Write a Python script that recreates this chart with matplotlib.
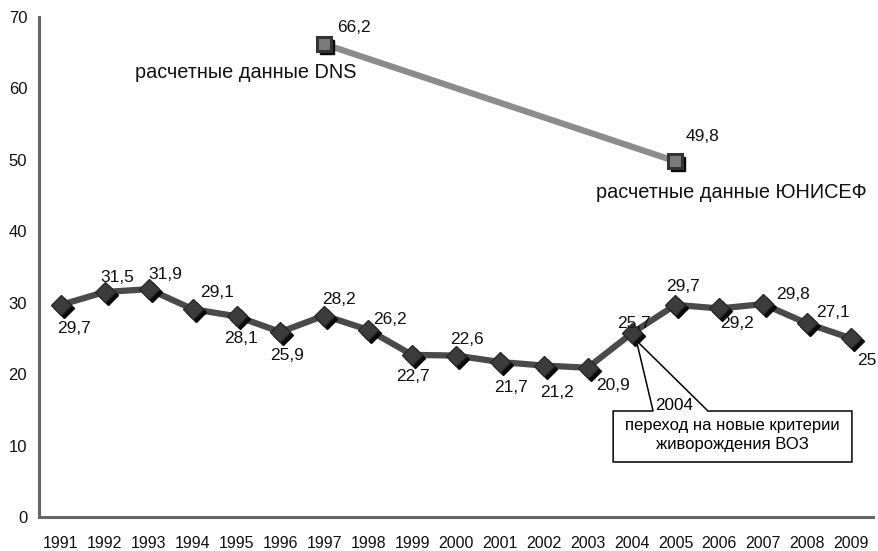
import matplotlib
matplotlib.use("Agg")
import matplotlib.pyplot as plt
import matplotlib.transforms as mtransforms
from matplotlib.patches import Polygon

years = [1991, 1992, 1993, 1994, 1995, 1996, 1997, 1998, 1999, 2000,
         2001, 2002, 2003, 2004, 2005, 2006, 2007, 2008, 2009]
rates = [29.7, 31.5, 31.9, 29.1, 28.1, 25.9, 28.2, 26.2, 22.7, 22.6,
         21.7, 21.2, 20.9, 25.7, 29.7, 29.2, 29.8, 27.1, 25.0]
label_texts = ["29,7", "31,5", "31,9", "29,1", "28,1", "25,9", "28,2", "26,2", "22,7", "22,6",
               "21,7", "21,2", "20,9", "25,7", "29,7", "29,2", "29,8", "27,1", "25"]
est_years = [1997, 2005]
est_rates = [66.2, 49.8]
est_texts = ["66,2", "49,8"]
est_names = ["расчетные данные DNS", "расчетные данные ЮНИСЕФ"]
y_ticks = [0, 10, 20, 30, 40, 50, 60, 70]
callout_title = "2004"
callout_text = "переход на новые критерии\nживорождения ВОЗ"

plt.rcParams['font.family'] = ['Liberation Sans', 'DejaVu Sans']

fig = plt.figure(figsize=(8.79, 5.51), dpi=100)
ax = fig.add_axes([39/879, 1 - 517/551, (873-39)/879, (517-17)/551])

xi = list(range(len(years)))
idx = {y: i for i, y in enumerate(years)}
ex = [idx[y] for y in est_years]

shadow = mtransforms.offset_copy(ax.transData, fig=fig, x=3, y=-3, units='dots')

# main series
ax.plot(xi, rates, color='#4a4a4a', lw=4.5, zorder=3, solid_joinstyle='round')
ax.plot(xi, rates, ls='none', marker='D', ms=10, color='#0a0a0a', transform=shadow, zorder=4)
ax.plot(xi, rates, ls='none', marker='D', ms=10, color='#3c3c3c', mec='#2a2a2a', zorder=5)

# estimated series
ax.plot(ex, est_rates, color='#8c8c8c', lw=4.5, zorder=3)
ax.plot(ex, est_rates, ls='none', marker='s', ms=10.5, color='#0a0a0a', transform=shadow, zorder=4)
ax.plot(ex, est_rates, ls='none', marker='s', ms=10.5, mfc='#7a7a7a', mec='#333333', mew=2.2, zorder=5)

# data labels (offsets in pixels)
offsets = [(13, -24), (12, 15), (17, 15), (24, 17), (4, -22), (7, -24), (15, 16), (22, 10), (1, -22), (11, 16),
           (11, -26), (13, -27), (25, -18), (2, 10), (8, 18), (18, -15), (30, 10), (26, 11), (16, -22)]
for x, y, t, (dx, dy) in zip(xi, rates, label_texts, offsets):
    ax.annotate(t, (x, y), xytext=(dx, dy), textcoords='offset pixels',
                ha='center', va='center', fontsize=12.5, color='#111111', zorder=6)

est_offsets = [(30, 17), (27, 25)]
for x, y, t, (dx, dy) in zip(ex, est_rates, est_texts, est_offsets):
    ax.annotate(t, (x, y), xytext=(dx, dy), textcoords='offset pixels',
                ha='center', va='center', fontsize=12.5, color='#111111', zorder=6)

name_offsets = [(-79, -28), (56, -31)]
for x, y, t, (dx, dy) in zip(ex, est_rates, est_names, name_offsets):
    ax.annotate(t, (x, y), xytext=(dx, dy), textcoords='offset pixels',
                ha='center', va='center', fontsize=14.3, color='#111111', zorder=6)

# callout box with wedge pointing at 2004
px = idx[2004]
py = rates[px]
bx0, bx1 = 12.58, 18.02
by0, by1 = 7.7, 14.84
w0, w1 = 13.49, 14.74
poly = Polygon([(bx0, by1), (w0, by1), (px + 0.11, py - 1.0), (w1, by1), (bx1, by1), (bx1, by0), (bx0, by0)],
               closed=True, facecolor='white', edgecolor='black', lw=1.1, zorder=7)
ax.add_patch(poly)
ax.text((w0 + w1) / 2 - 0.15, 15.68, callout_title, ha='center', va='center', fontsize=12.3, zorder=8)
ax.text((bx0 + bx1) / 2, 11.5, callout_text, ha='center', va='center',
        fontsize=12, linespacing=1.3, zorder=8)

ax.set_xlim(-0.5, len(years) - 0.5)
ax.set_ylim(0, 70)
ax.set_yticks(y_ticks)
ax.set_yticklabels([str(v) for v in y_ticks], fontsize=12)
ax.set_xticks(xi)
ax.set_xticklabels([str(y) for y in years], fontsize=11.5)
ax.tick_params(axis='both', length=0, colors='#111111')
ax.tick_params(axis='y', pad=8.5)
ax.tick_params(axis='x', pad=14)

for s in ['top', 'right']:
    ax.spines[s].set_visible(False)
for s in ['left', 'bottom']:
    ax.spines[s].set_color('#666666')
    ax.spines[s].set_linewidth(2.2)

fig.savefig('out.png', dpi=100)
